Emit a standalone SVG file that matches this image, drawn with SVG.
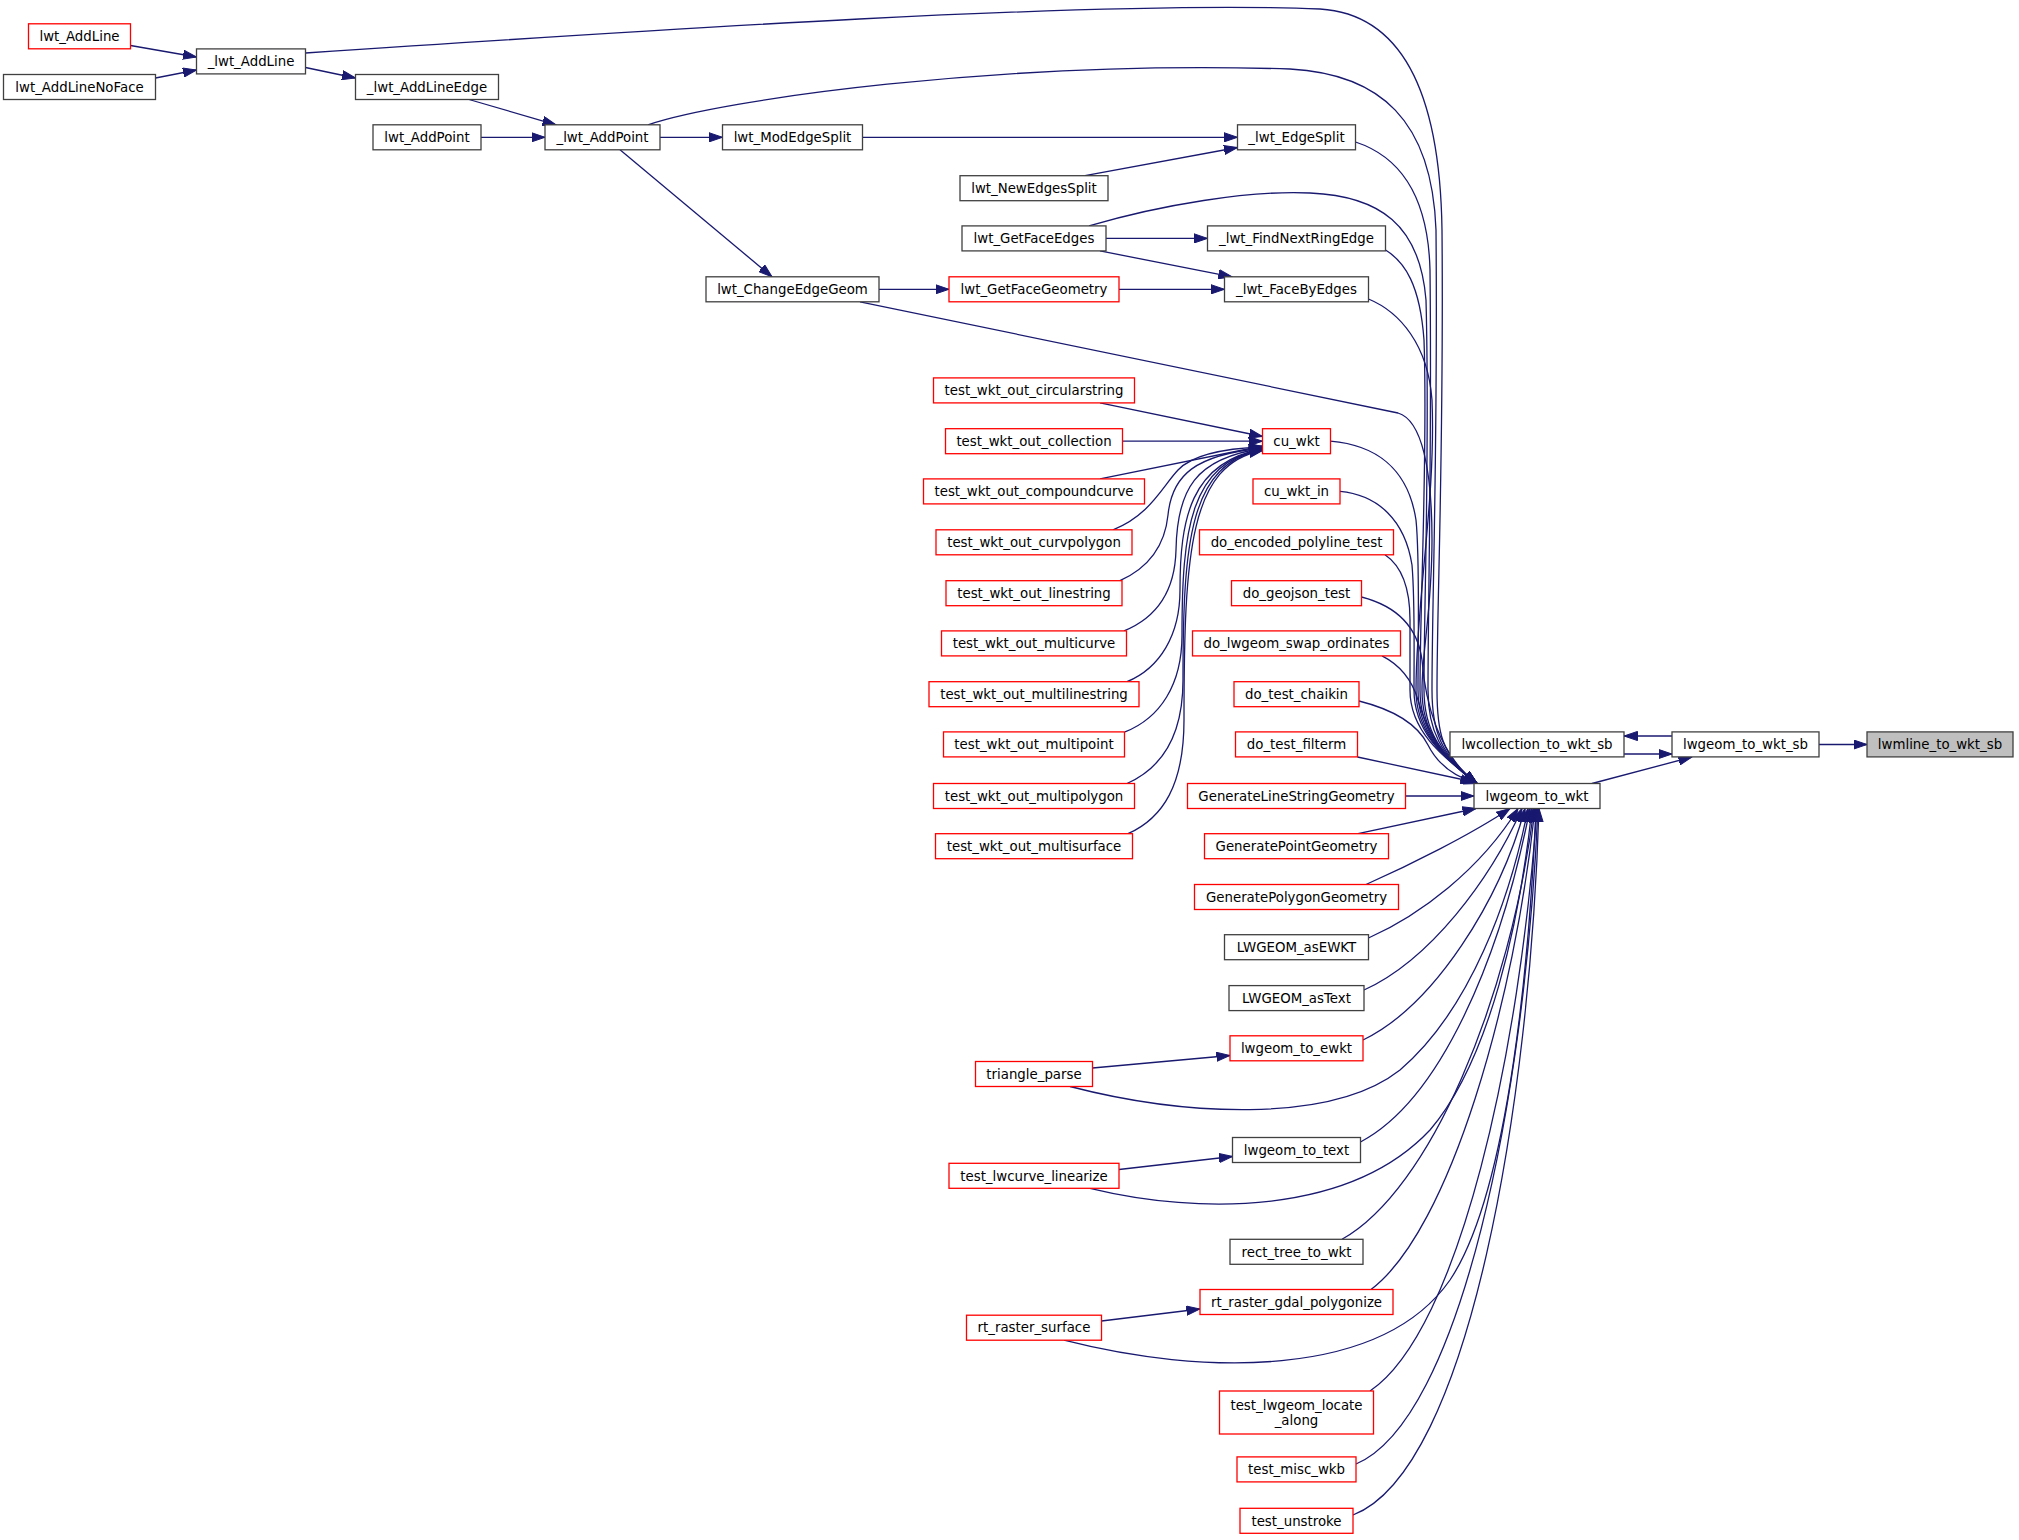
<svg xmlns="http://www.w3.org/2000/svg" width="2019" height="1540" viewBox="0 0 2019 1540">
<style>
rect{fill:#fff;stroke:#404040;stroke-width:1.3}
.r rect{stroke:#ff0000}
.g rect{fill:#bfbfbf}
text{font-family:"DejaVu Sans",sans-serif;font-size:13.33px;text-anchor:middle;fill:#000}
#edges path{fill:none;stroke:#191970;stroke-width:1.3;marker-end:url(#a)}
</style>
<defs>
<marker id="a" markerUnits="userSpaceOnUse" markerWidth="14" markerHeight="10" viewBox="0 0 14 10" refX="13.5" refY="5" orient="auto"><path d="M0,0.4 L13.5,5 L0,9.6z" fill="#191970" stroke="#191970" stroke-width="1"/></marker>
</defs>
<rect x="0" y="0" width="2019" height="1540" style="fill:#fff;stroke:none"/>
<g id="edges">
<path d="M130.5,45.5 L196.5,57"/>
<path d="M155.5,78 L196.5,70"/>
<path d="M305.5,67.5 L355.5,78"/>
<path d="M469,99.5 L556,124.8"/>
<path d="M481,137.3 L545,137.3"/>
<path d="M660,137.3 L722.5,137.3"/>
<path d="M620,149.8 L772,276.8"/>
<path d="M862.5,137.3 L1237.5,137.3"/>
<path d="M1085,175.7 L1237.5,147.5"/>
<path d="M1106,238.4 L1207.5,238.4"/>
<path d="M1100,250.9 L1232,276.8"/>
<path d="M879,289.3 L949,289.3"/>
<path d="M1119,289.3 L1224.5,289.3"/>
<path d="M1100,402.9 L1262.5,436.5"/>
<path d="M1122.5,441.2 L1262.5,441.2"/>
<path d="M1100,478.9 L1262.5,446"/>
<path d="M1113,529.8 C1150,515 1162,487 1178,470 C1195,452 1235,448 1262.5,447"/>
<path d="M1120,580.7 C1150,567 1165,545 1168,515 C1172,475 1195,455 1262.5,448"/>
<path d="M1124,630.9 C1158,617 1175,590 1176,550 C1177,490 1195,458 1262.5,448.5"/>
<path d="M1127,681.7 C1160,668 1180,635 1180,590 C1180,520 1190,462 1262.5,449"/>
<path d="M1125,731.9 C1160,718 1182,685 1182,635 C1182,530 1190,462 1262.5,449.5"/>
<path d="M1127,783.5 C1162,768 1183,735 1183,680 C1183,540 1190,463 1262.5,450"/>
<path d="M1128,833.7 C1163,818 1184,785 1184,720 C1184,550 1190,464 1262.5,450.5"/>
<path d="M305.5,53 C650,30 1100,0 1320,9 C1400,14 1440,90 1442,230 C1444,450 1437,600 1437,690 C1437,730 1440,755 1477,783.5"/>
<path d="M648,124.8 C720,100 1000,60 1290,69 C1380,74 1432,120 1436,230 C1438,450 1432,600 1432,690 C1432,730 1440,755 1477,783.5"/>
<path d="M1355.5,142 C1395,155 1428,190 1430,270 C1432,450 1428,600 1428,690 C1428,730 1440,755 1477,783.5"/>
<path d="M1089,225.9 C1160,205 1250,190 1310,193 C1380,196 1420,225 1426,300 C1430,450 1424,600 1424,690 C1424,730 1440,755 1477,783.5"/>
<path d="M1385.5,250 C1405,262 1420,285 1424,340 C1428,450 1420,600 1420,690 C1420,730 1440,755 1477,783.5"/>
<path d="M1368.5,299 C1400,312 1428,345 1432,400 C1436,500 1416,600 1416,690 C1416,730 1440,755 1477,783.5"/>
<path d="M860,301.8 L1398,413 C1422,420 1432,470 1432,540 C1432,610 1422,650 1422,690 C1422,730 1440,755 1477,783.5"/>
<path d="M1330.5,441.2 C1375,445 1408,468 1416,520 C1420,560 1418,640 1418,690 C1418,730 1440,755 1477,783.5"/>
<path d="M1340,491.4 C1378,495 1405,520 1412,565 C1415,600 1414,650 1414,690 C1414,730 1440,755 1477,783.5"/>
<path d="M1385,554.8 C1400,565 1410,585 1410,620 C1410,650 1410,670 1410,690 C1410,730 1440,755 1477,783.5"/>
<path d="M1361.5,597 C1400,607 1418,630 1422,660 C1425,700 1438,755 1477,783.5"/>
<path d="M1382,655.9 C1400,665 1412,680 1418,700 C1425,725 1440,758 1477,783.5"/>
<path d="M1359,701 C1395,710 1418,725 1428,745 C1438,765 1455,777 1477,783.5"/>
<path d="M1357.5,757 L1474,782"/>
<path d="M1405.5,796 L1474,796"/>
<path d="M1358,833.7 L1476,808.5"/>
<path d="M1366,884.5 C1410,865 1470,835 1510,808.5"/>
<path d="M1368.5,938 C1420,915 1480,870 1518,808.5"/>
<path d="M1364,990 C1430,960 1490,880 1522,808.5"/>
<path d="M1363,1040 C1435,1005 1500,900 1525,808.5"/>
<path d="M1070,1086.5 C1180,1115 1330,1125 1400,1070 C1470,1010 1510,900 1528,808.5"/>
<path d="M1360.5,1142 C1440,1100 1500,960 1530,808.5"/>
<path d="M1090,1188.3 C1200,1215 1350,1215 1430,1130 C1490,1060 1520,920 1532,808.5"/>
<path d="M1342,1239.3 C1430,1190 1510,1000 1534,808.5"/>
<path d="M1371,1289.5 C1450,1230 1515,1000 1535,808.5"/>
<path d="M1064,1340.2 C1200,1375 1380,1380 1450,1280 C1510,1190 1530,950 1536,808.5"/>
<path d="M1370,1391 C1460,1330 1520,1050 1537,808.5"/>
<path d="M1356,1464 C1460,1420 1525,1100 1538,808.5"/>
<path d="M1353,1515 C1470,1470 1530,1100 1539,808.5"/>
<path d="M1092.5,1068 L1230,1055.5"/>
<path d="M1119,1169.5 L1232.5,1156.5"/>
<path d="M1101.5,1321 L1200,1309"/>
<path d="M1592,783.5 L1692,757"/>
<path d="M1624,754 L1672,754"/>
<path d="M1672,736 L1624,736"/>
<path d="M1819,744.5 L1867,744.5"/>
</g>
<g id="n1" class="r"><rect x="28.5" y="23.8" width="102" height="25"/><text x="79.5" y="41">lwt_AddLine</text></g>
<g id="n2"><rect x="196.5" y="48.9" width="109" height="25"/><text x="251" y="66.1">_lwt_AddLine</text></g>
<g id="n3"><rect x="3.5" y="74.5" width="152" height="25"/><text x="79.5" y="91.7">lwt_AddLineNoFace</text></g>
<g id="n4"><rect x="355.5" y="74.5" width="143" height="25"/><text x="427" y="91.7">_lwt_AddLineEdge</text></g>
<g id="n5"><rect x="373" y="124.8" width="108" height="25"/><text x="427" y="142">lwt_AddPoint</text></g>
<g id="n6"><rect x="545" y="124.8" width="115" height="25"/><text x="602.5" y="142">_lwt_AddPoint</text></g>
<g id="n7"><rect x="722.5" y="124.8" width="140" height="25"/><text x="792.5" y="142">lwt_ModEdgeSplit</text></g>
<g id="n8"><rect x="1237.5" y="124.8" width="118" height="25"/><text x="1296.5" y="142">_lwt_EdgeSplit</text></g>
<g id="n9"><rect x="960" y="175.7" width="148" height="25"/><text x="1034" y="192.9">lwt_NewEdgesSplit</text></g>
<g id="n10"><rect x="962" y="225.9" width="144" height="25"/><text x="1034" y="243.1">lwt_GetFaceEdges</text></g>
<g id="n11"><rect x="1207.5" y="225.9" width="178" height="25"/><text x="1296.5" y="243.1">_lwt_FindNextRingEdge</text></g>
<g id="n12"><rect x="706" y="276.8" width="173" height="25"/><text x="792.5" y="294">lwt_ChangeEdgeGeom</text></g>
<g id="n13" class="r"><rect x="949" y="276.8" width="170" height="25"/><text x="1034" y="294">lwt_GetFaceGeometry</text></g>
<g id="n14"><rect x="1224.5" y="276.8" width="144" height="25"/><text x="1296.5" y="294">_lwt_FaceByEdges</text></g>
<g id="n15" class="r"><rect x="933.5" y="377.9" width="201" height="25"/><text x="1034" y="395.1">test_wkt_out_circularstring</text></g>
<g id="n16" class="r"><rect x="945.5" y="428.7" width="177" height="25"/><text x="1034" y="445.9">test_wkt_out_collection</text></g>
<g id="n17" class="r"><rect x="923.5" y="478.9" width="221" height="25"/><text x="1034" y="496.1">test_wkt_out_compoundcurve</text></g>
<g id="n18" class="r"><rect x="936" y="529.8" width="196" height="25"/><text x="1034" y="547">test_wkt_out_curvpolygon</text></g>
<g id="n19" class="r"><rect x="946" y="580.7" width="176" height="25"/><text x="1034" y="597.9">test_wkt_out_linestring</text></g>
<g id="n20" class="r"><rect x="941.5" y="630.9" width="185" height="25"/><text x="1034" y="648.1">test_wkt_out_multicurve</text></g>
<g id="n21" class="r"><rect x="929" y="681.7" width="210" height="25"/><text x="1034" y="698.9">test_wkt_out_multilinestring</text></g>
<g id="n22" class="r"><rect x="943.5" y="731.9" width="181" height="25"/><text x="1034" y="749.1">test_wkt_out_multipoint</text></g>
<g id="n23" class="r"><rect x="933.5" y="783.5" width="201" height="25"/><text x="1034" y="800.7">test_wkt_out_multipolygon</text></g>
<g id="n24" class="r"><rect x="935.5" y="833.7" width="197" height="25"/><text x="1034" y="850.9">test_wkt_out_multisurface</text></g>
<g id="n25" class="r"><rect x="1262.5" y="428.7" width="68" height="25"/><text x="1296.5" y="445.9">cu_wkt</text></g>
<g id="n26" class="r"><rect x="1253" y="478.9" width="87" height="25"/><text x="1296.5" y="496.1">cu_wkt_in</text></g>
<g id="n27" class="r"><rect x="1199.5" y="529.8" width="194" height="25"/><text x="1296.5" y="547">do_encoded_polyline_test</text></g>
<g id="n28" class="r"><rect x="1231.5" y="580.7" width="130" height="25"/><text x="1296.5" y="597.9">do_geojson_test</text></g>
<g id="n29" class="r"><rect x="1192.5" y="630.9" width="208" height="25"/><text x="1296.5" y="648.1">do_lwgeom_swap_ordinates</text></g>
<g id="n30" class="r"><rect x="1234" y="681.7" width="125" height="25"/><text x="1296.5" y="698.9">do_test_chaikin</text></g>
<g id="n31" class="r"><rect x="1235.5" y="731.9" width="122" height="25"/><text x="1296.5" y="749.1">do_test_filterm</text></g>
<g id="n32" class="r"><rect x="1187.5" y="783.5" width="218" height="25"/><text x="1296.5" y="800.7">GenerateLineStringGeometry</text></g>
<g id="n33" class="r"><rect x="1204.5" y="833.7" width="184" height="25"/><text x="1296.5" y="850.9">GeneratePointGeometry</text></g>
<g id="n34" class="r"><rect x="1194.5" y="884.5" width="204" height="25"/><text x="1296.5" y="901.7">GeneratePolygonGeometry</text></g>
<g id="n35"><rect x="1224.5" y="934.7" width="144" height="25"/><text x="1296.5" y="951.9">LWGEOM_asEWKT</text></g>
<g id="n36"><rect x="1229" y="985.6" width="135" height="25"/><text x="1296.5" y="1002.8">LWGEOM_asText</text></g>
<g id="n37" class="r"><rect x="1230" y="1035.8" width="133" height="25"/><text x="1296.5" y="1053">lwgeom_to_ewkt</text></g>
<g id="n38" class="r"><rect x="975.5" y="1061.5" width="117" height="25"/><text x="1034" y="1078.7">triangle_parse</text></g>
<g id="n39"><rect x="1232.5" y="1137.5" width="128" height="25"/><text x="1296.5" y="1154.7">lwgeom_to_text</text></g>
<g id="n40" class="r"><rect x="949" y="1163.3" width="170" height="25"/><text x="1034" y="1180.5">test_lwcurve_linearize</text></g>
<g id="n41"><rect x="1230" y="1239.3" width="133" height="25"/><text x="1296.5" y="1256.5">rect_tree_to_wkt</text></g>
<g id="n42" class="r"><rect x="1200" y="1289.5" width="193" height="25"/><text x="1296.5" y="1306.7">rt_raster_gdal_polygonize</text></g>
<g id="n43" class="r"><rect x="966.5" y="1315.2" width="135" height="25"/><text x="1034" y="1332.4">rt_raster_surface</text></g>
<g id="n44" class="r"><rect x="1219.5" y="1391" width="154" height="43"/><text x="1296.5" y="1409.5">test_lwgeom_locate</text><text x="1296.5" y="1424.5">_along</text></g>
<g id="n45" class="r"><rect x="1237" y="1456.9" width="119" height="25"/><text x="1296.5" y="1474.1">test_misc_wkb</text></g>
<g id="n46" class="r"><rect x="1240" y="1508.3" width="113" height="25"/><text x="1296.5" y="1525.5">test_unstroke</text></g>
<g id="n47"><rect x="1474" y="783.5" width="126" height="25"/><text x="1537" y="800.7">lwgeom_to_wkt</text></g>
<g id="n48"><rect x="1450" y="731.9" width="174" height="25"/><text x="1537" y="749.1">lwcollection_to_wkt_sb</text></g>
<g id="n49"><rect x="1672" y="731.9" width="147" height="25"/><text x="1745.5" y="749.1">lwgeom_to_wkt_sb</text></g>
<g id="n50" class="g"><rect x="1867" y="731.9" width="146" height="25"/><text x="1940" y="749.1">lwmline_to_wkt_sb</text></g>
</svg>
